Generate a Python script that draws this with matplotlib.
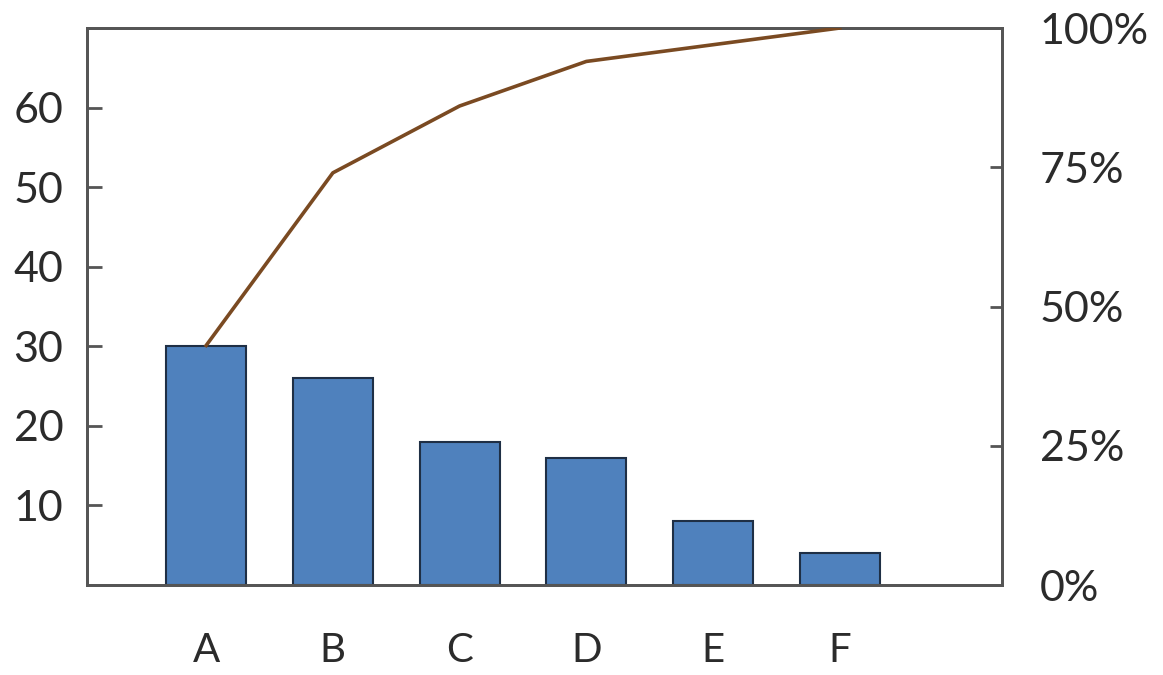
import numpy as np
import matplotlib
matplotlib.use('Agg')
import matplotlib.pyplot as plt

# bar categories and counts
categories = ['A', 'B', 'C', 'D', 'E', 'F']
counts = [30, 26, 18, 16, 8, 4]
# cumulative percentage line
cum_pct = [43, 74, 86, 94, 97, 100]

left_ticks = [10, 20, 30, 40, 50, 60]
right_ticks = [0, 25, 50, 75, 100]
right_labels = ['0%', '25%', '50%', '75%', '100%']

plt.rcParams['font.family'] = ['Lato', 'DejaVu Sans']

fig = plt.figure(figsize=(11.63, 6.75), dpi=100)
ax = fig.add_axes([0.0748, 0.1333, 0.7868, 0.8252])
x = np.arange(len(categories))

ax.bar(x, counts, width=0.63, color='#4f81bd', edgecolor='#1f2f45', linewidth=1.5, zorder=2)
ax.set_ylim(0, 70)
ax.set_yticks(left_ticks)
ax.set_xticks(x)
ax.set_xticklabels(categories)
ax.tick_params(axis='y', direction='in', length=11, width=2, color='#555555',
               labelsize=31, labelcolor='#2b2b2b', pad=17)
ax.tick_params(axis='x', length=0, labelsize=29, labelcolor='#2b2b2b', pad=34)

ax2 = ax.twinx()
ax2.plot(x, cum_pct, color='#7a4a22', linewidth=2.6, zorder=3)
ax2.set_ylim(0, 100)
ax2.set_yticks(right_ticks)
ax2.set_yticklabels(right_labels)
ax2.tick_params(axis='y', direction='in', length=9, width=2, color='#555555',
                labelsize=31, labelcolor='#2b2b2b', pad=27)
# no visible tick marks at 0% and 100%
for t in [ax2.yaxis.get_major_ticks()[0], ax2.yaxis.get_major_ticks()[-1]]:
    t.tick2line.set_visible(False)
ax.set_xlim(-0.94, 6.28)

for a in (ax, ax2):
    for s in a.spines.values():
        s.set_color('#555555')
        s.set_linewidth(2)

fig.savefig('out.png', dpi=100)
